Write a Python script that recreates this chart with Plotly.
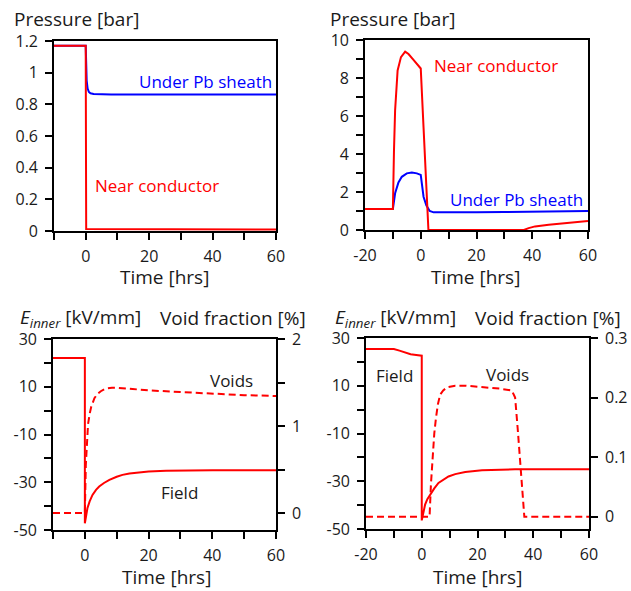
import plotly.graph_objects as go

# ---- data -------------------------------------------------------------
# Top-left: pressure, case A
tl_t_cond = [-10, 0, 0.15, 60]
tl_p_cond = [1.17, 1.17, 0.012, 0.01]
tl_t_sheath = [-10, 0, 0.3, 0.6, 1.0, 1.5, 2.5, 4, 8, 20, 60]
tl_p_sheath = [1.17, 1.17, 0.95, 0.9, 0.878, 0.87, 0.865, 0.863, 0.862, 0.862, 0.862]

# Top-right: pressure, case B
tr_t_cond = [-20, -10, -9.6, -9.2, -8.3, -7.1, -5.6, -4.4, -2.6, -0.8, 0, 1, 2, 2.75,
             10, 20, 30, 37, 38.7, 41, 45.9, 53, 60]
tr_p_cond = [1.1, 1.1, 4.2, 6.3, 8.4, 9.1, 9.39, 9.26, 8.95, 8.65, 8.5, 5.4, 2.3, 0,
             0, 0, 0, 0, 0.1, 0.19, 0.28, 0.39, 0.47]
tr_t_sheath = [-20, -10, -9.2, -8, -6.8, -5, -3.2, -1.4, 0, 0.4, 1, 2, 3.2, 4.6,
               10, 20, 30, 40, 50, 60]
tr_p_sheath = [1.1, 1.1, 1.93, 2.5, 2.8, 2.98, 3.02, 2.98, 2.9, 2.3, 1.75, 1.3, 1.0, 0.93,
               0.92, 0.93, 0.95, 0.97, 0.99, 1.0]

# Bottom-left: field and void fraction, case A
bl_t_field = [-10, 0, 0, 0.3, 0.8, 1.5, 2.4, 3.5, 4.5, 6, 7.7, 10, 11.8, 14, 17, 20,
              25.5, 30, 40, 50, 60]
bl_e_field = [22, 22, -47.2, -44.5, -40.9, -38, -35.3, -33.2, -31.8, -30.3, -29, -27.7,
              -26.9, -26.3, -25.8, -25.5, -25.2, -25.1, -25, -25, -25]
bl_t_void = [-10, 0, 0.3, 0.6, 1.0, 1.5, 2.0, 3.0, 4.0, 5.0, 6.5, 8.5, 10, 15, 20, 30,
             40, 50, 60]
bl_v_void = [0, 0, 0.55, 0.85, 1.02, 1.14, 1.22, 1.32, 1.37, 1.40, 1.43, 1.44, 1.44,
             1.425, 1.41, 1.39, 1.37, 1.355, 1.345]

# Bottom-right: field and void fraction, case B
br_t_field = [-20, -10, -8, -6, -4, -2, 0, 0, 0.5, 1.2, 2, 3, 4.5, 6, 8, 9.6, 12, 15.6,
              21.6, 27, 33.5, 45, 60]
br_e_field = [25.4, 25.4, 24.7, 23.8, 23.2, 22.9, 22.6, -46.4, -43, -39.8, -37.5, -35.6,
              -33, -30.7, -29.1, -28, -27, -26.1, -25.4, -25.15, -25, -25, -25]
br_t_void = [-20, 2.8, 3.3, 3.9, 4.5, 5.1, 5.8, 6.6, 7.7, 9, 12, 16, 22, 28, 32.3, 33.5,
             34.4, 35.3, 36.1, 36.8, 60]
br_v_void = [0, 0, 0.055, 0.104, 0.14, 0.166, 0.189, 0.205, 0.212, 0.217, 0.22, 0.22,
             0.218, 0.215, 0.212, 0.2, 0.149, 0.098, 0.048, 0, 0]

# tick positions: labelled (major) and unlabelled (minor)
xt_a = [0, 20, 40, 60]
xm_a = [-10, 10, 30, 50]
xt_b = [-20, 0, 20, 40, 60]
xm_b = [-10, 10, 30, 50]
yt_p1 = [0, 0.2, 0.4, 0.6, 0.8, 1.0, 1.2]
yl_p1 = ["0", "0.2", "0.4", "0.6", "0.8", "1", "1.2"]
yt_p2 = [0, 2, 4, 6, 8, 10]
ym_p2 = [1, 3, 5, 7, 9]
yt_e = [-50, -30, -10, 10, 30]
ym_e = [-40, -20, 0, 20]
yt_v1 = [0, 1, 2]
ym_v1 = [0.5, 1.5]
yt_v2 = [0, 0.1, 0.2, 0.3]
yl_v2 = ["0", "0.1", "0.2", "0.3"]

# ---- styling ----------------------------------------------------------
W, H = 631, 591
FONT = "Open Sans"
RED = "#ff0000"
BLUE = "#0000ff"
INK = "#1a1a1a"
TICK_FS = 16
TITLE_FS = 19
LABEL_FS = 17
DASH = "7px,4px"
TICKLEN = 7
LW = 1.6


def dx(a, b):
    return [a / W, b / W]


def dy(top, bottom):
    return [1 - bottom / H, 1 - top / H]


def px(x):
    return x / W


def py(y):
    return 1 - y / H


fig = go.Figure()

line_r = dict(color=RED, width=2)
line_b = dict(color=BLUE, width=2)
line_rd = dict(color=RED, width=2, dash=DASH)

fig.add_trace(go.Scatter(x=tl_t_sheath, y=tl_p_sheath, mode="lines", line=line_b,
                         xaxis="x", yaxis="y"))
fig.add_trace(go.Scatter(x=tl_t_cond, y=tl_p_cond, mode="lines", line=line_r,
                         xaxis="x", yaxis="y"))
fig.add_trace(go.Scatter(x=tr_t_sheath, y=tr_p_sheath, mode="lines", line=line_b,
                         xaxis="x2", yaxis="y2"))
fig.add_trace(go.Scatter(x=tr_t_cond, y=tr_p_cond, mode="lines", line=line_r,
                         xaxis="x2", yaxis="y2"))
fig.add_trace(go.Scatter(x=bl_t_field, y=bl_e_field, mode="lines", line=line_r,
                         xaxis="x3", yaxis="y3"))
fig.add_trace(go.Scatter(x=bl_t_void, y=bl_v_void, mode="lines", line=line_rd,
                         xaxis="x3", yaxis="y4"))
fig.add_trace(go.Scatter(x=br_t_field, y=br_e_field, mode="lines", line=line_r,
                         xaxis="x4", yaxis="y5"))
fig.add_trace(go.Scatter(x=br_t_void, y=br_v_void, mode="lines", line=line_rd,
                         xaxis="x4", yaxis="y6"))

axis_common = dict(
    showline=True, linecolor="black", linewidth=LW,
    ticks="outside", ticklen=TICKLEN, tickwidth=LW, tickcolor="black",
    showgrid=False, zeroline=False, tickmode="array", automargin=False,
    tickfont=dict(family=FONT, size=TICK_FS, color=INK),
    fixedrange=True,
)


def minor(vals):
    if not vals:
        return dict(ticks="")
    return dict(tickmode="array", tickvals=vals, ticks="outside", ticklen=TICKLEN,
                tickwidth=LW, tickcolor="black", showgrid=False)


def xax(domain, anchor, rng, vals, mvals):
    return dict(axis_common, domain=domain, anchor=anchor, range=rng,
                tickvals=vals, ticktext=[str(v) for v in vals], minor=minor(mvals),
                mirror=True, ticklabelstandoff=3)


def yax(domain, anchor, rng, vals, text, mvals, **kw):
    d = dict(axis_common, anchor=anchor, range=rng, tickvals=vals, ticktext=text,
             minor=minor(mvals), ticklabelstandoff=4)
    if domain is not None:
        d["domain"] = domain
    d.update(kw)
    return d


fig.update_layout(
    width=W, height=H,
    margin=dict(l=0, r=0, t=0, b=0, pad=0, autoexpand=False),
    paper_bgcolor="white", plot_bgcolor="white",
    showlegend=False,
    font=dict(family=FONT, color=INK),
    xaxis=xax(dx(54, 276), "y", [-10, 60], xt_a, xm_a),
    yaxis=yax(dy(41, 231), "x", [0, 1.2], yt_p1, yl_p1, [], mirror=True),
    xaxis2=xax(dx(365, 588), "y2", [-20, 60], xt_b, xm_b),
    yaxis2=yax(dy(40, 230), "x2", [0, 10], yt_p2, [str(v) for v in yt_p2], ym_p2,
               mirror=True),
    xaxis3=xax(dx(53, 276), "y3", [-10, 60], xt_a, xm_a),
    yaxis3=yax(dy(339, 530), "x3", [-50, 30], yt_e, [str(v) for v in yt_e], ym_e,
               mirror=True),
    yaxis4=yax(None, "x3", [-0.195, 2], yt_v1, [str(v) for v in yt_v1], ym_v1,
               overlaying="y3", side="right"),
    xaxis4=xax(dx(366, 589), "y5", [-20, 60], xt_b, xm_b),
    yaxis5=yax(dy(338, 529), "x4", [-50, 30], yt_e, [str(v) for v in yt_e], ym_e,
               mirror=True),
    yaxis6=yax(None, "x4", [-0.0205, 0.3], yt_v2, yl_v2, [],
               overlaying="y5", side="right"),
)

ann = []


def title(text, x, y, xanchor="left"):
    ann.append(dict(text=text, x=px(x), y=py(y), xref="paper", yref="paper",
                    xanchor=xanchor, yanchor="middle", showarrow=False,
                    font=dict(family=FONT, size=TITLE_FS, color=INK)))


def label(text, x, y, xr, yr, color, xanchor="left"):
    ann.append(dict(text=text, x=x, y=y, xref=xr, yref=yr, xanchor=xanchor,
                    yanchor="middle", showarrow=False,
                    font=dict(family=FONT, size=LABEL_FS, color=color)))


title("Pressure [bar]", 12, 19)
title("Pressure [bar]", 328, 19)
title("Time [hrs]", 164.5, 277, "center")
title("Time [hrs]", 475, 277, "center")
e_title = "<i>E</i><sub><i>inner</i></sub> [kV/mm]"
title(e_title, 18, 318)
title("Void fraction [%]", 308, 318, "right")
title(e_title, 333, 318)
title("Void fraction [%]", 623, 318, "right")
title("Time [hrs]", 166, 577, "center")
title("Time [hrs]", 477.5, 577, "center")

label("Under Pb sheath", 16.1, 0.947, "x", "y", BLUE)
label("Near conductor", 2.2, 0.29, "x", "y", RED)
label("Near conductor", 4.0, 8.68, "x2", "y2", RED)
label("Under Pb sheath", 9.7, 1.63, "x2", "y2", BLUE)
label("Voids", 46.1, 12.8, "x3", "y3", INK, "center")
label("Field", 29.6, -34.1, "x3", "y3", INK, "center")
label("Field", -9.8, 14.1, "x4", "y5", INK, "center")
label("Voids", 30.7, 14.9, "x4", "y5", INK, "center")

fig.update_layout(annotations=ann)
fig.write_html("out.html")
